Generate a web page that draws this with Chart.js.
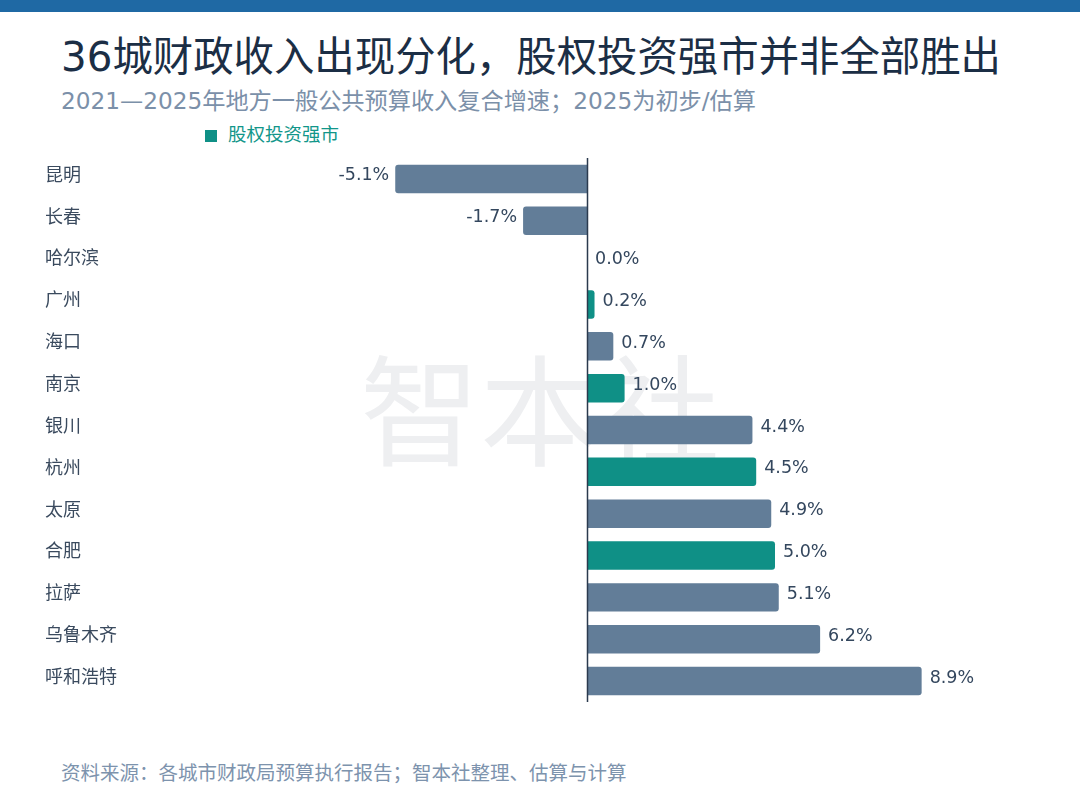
<!DOCTYPE html>
<html>
<head>
<meta charset="utf-8">
<script src="https://cdn.jsdelivr.net/npm/chart.js@4.4.0/dist/chart.umd.min.js"></script>
<style>
  html, body { margin: 0; padding: 0; background: #ffffff; }
  body { width: 1080px; height: 810px; position: relative; overflow: hidden;
         font-family: "Noto Sans CJK SC", "Noto Sans", sans-serif; }
  .topbar { position: absolute; left: 0; top: 0; width: 1080px; height: 12px; background: #1f69a4; }
  .title { position: absolute; left: 61px; top: 30px; font-family: "DejaVu Sans", "Noto Sans CJK SC", sans-serif;
           font-size: 40.4px; line-height: 54px; color: #1b2e45; white-space: nowrap; }
  .subtitle { position: absolute; left: 61px; top: 86px; font-family: "DejaVu Sans", "Noto Sans CJK SC", sans-serif;
              font-size: 23.2px; line-height: 30px; color: #7b90a9; white-space: nowrap; }
  .legend { position: absolute; left: 205px; top: 119px; font-size: 18.5px; line-height: 28px; color: #12968a; white-space: nowrap; }
  .legend i { display: inline-block; width: 12px; height: 12px; background: #0f9086; margin-right: 11px; vertical-align: -1px; }
  .watermark { position: absolute; left: 0; width: 1080px; top: 330px; text-align: center; font-size: 120px; line-height: 150px; color: #eeeff1; white-space: nowrap; }
  .source { position: absolute; left: 61px; top: 757px; font-size: 19.5px; line-height: 30px; color: #7d93ad; white-space: nowrap; }
  #wrap { position: absolute; left: 0; top: 0; width: 1080px; height: 810px; }
</style>
</head>
<body>
<div class="topbar"></div>
<div class="title">36城财政收入出现分化，股权投资强市并非全部胜出</div>
<div class="subtitle">2021—2025年地方一般公共预算收入复合增速；2025为初步/估算</div>
<div class="legend"><i></i>股权投资强市</div>
<div class="watermark">智本社</div>
<div class="source">资料来源：各城市财政局预算执行报告；智本社整理、估算与计算</div>
<div id="wrap"><canvas id="myChart"></canvas></div>

<script>
// data
const cities = ['昆明', '长春', '哈尔滨', '广州', '海口', '南京', '银川', '杭州', '太原', '合肥', '拉萨', '乌鲁木齐', '呼和浩特'];
const growth = [-5.1, -1.7, 0.0, 0.2, 0.7, 1.0, 4.4, 4.5, 4.9, 5.0, 5.1, 6.2, 8.9];
const equityCities = ['广州', '南京', '杭州', '合肥'];

const colorNormal = '#627d98';
const colorEquity = '#0f9086';

// zero line
const zeroLine = {
    id: 'zeroLine',
    afterDatasetsDraw(chart) {
        const {ctx, chartArea, scales} = chart;
        const x = Math.round(scales.x.getPixelForValue(0)) + 0.5;
        ctx.save();
        ctx.strokeStyle = '#2b3a4e';
        ctx.lineWidth = 1.5;
        ctx.beginPath();
        ctx.moveTo(x, chartArea.top);
        ctx.lineTo(x, chartArea.bottom);
        ctx.stroke();
        ctx.restore();
    }
};

// value labels
const valueLabels = {
    id: 'valueLabels',
    afterDatasetsDraw(chart) {
        const {ctx} = chart;
        const meta = chart.getDatasetMeta(0);
        ctx.save();
        ctx.font = '17.5px "DejaVu Sans", sans-serif';
        ctx.fillStyle = '#34475e';
        ctx.textBaseline = 'middle';
        meta.data.forEach((bar, i) => {
            const v = growth[i];
            const txt = v.toFixed(1) + '%';
            if (v < 0) {
                ctx.textAlign = 'right';
                ctx.fillText(txt, bar.x - 6, bar.y - 3);
            } else {
                ctx.textAlign = 'left';
                ctx.fillText(txt, bar.x + 8, bar.y - 3);
            }
        });
        ctx.restore();
    }
};

const ctx = document.getElementById('myChart').getContext('2d');

const myChart = new Chart(ctx, {
    type: 'bar',
    data: {
        labels: cities,
        datasets: [
            {
                label: '复合增速',
                data: growth,
                backgroundColor: cities.map(c => equityCities.includes(c) ? colorEquity : colorNormal),
                borderRadius: 3,
                categoryPercentage: 1,
                barPercentage: 0.68
            }
        ]
    },
    options: {
        indexAxis: 'y',
        responsive: true,
        maintainAspectRatio: false,
        animation: false,
        layout: {
            padding: { top: 158, bottom: 108, left: 45, right: 117 }
        },
        plugins: {
            legend: { display: false },
            title: { display: false },
            tooltip: { enabled: false }
        },
        scales: {
            x: {
                display: false,
                min: -6,
                max: 10
            },
            y: {
                grid: { display: false },
                border: { display: false },
                ticks: {
                    crossAlign: 'far',
                    color: '#3a4a5e',
                    padding: 0,
                    labelOffset: -5,
                    font: {
                        size: 18,
                        family: '"Noto Sans CJK SC", sans-serif'
                    }
                },
                afterFit(scale) {
                    scale.width = 316.4;
                }
            }
        }
    },
    plugins: [zeroLine, valueLabels]
});
</script>
</body>
</html>
